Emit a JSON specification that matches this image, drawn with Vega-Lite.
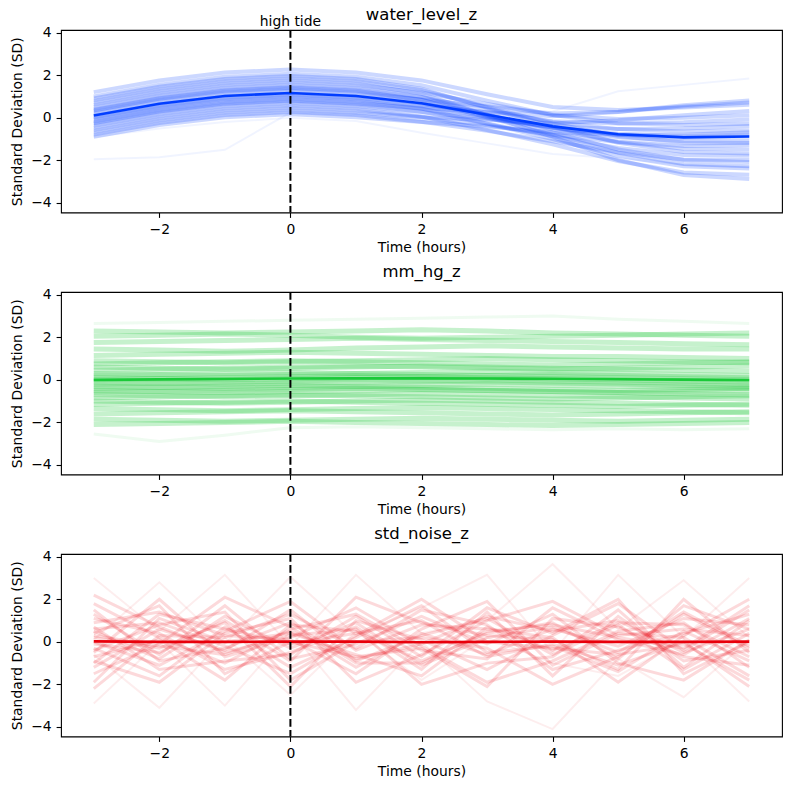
{
"$schema": "https://vega.github.io/schema/vega-lite/v6.json",
"padding": {"left": 10, "top": 5, "right": 9, "bottom": 5},
"background": "white",
"spacing": 79,
"bounds": "flush",
"config": {
 "font": "DejaVu Sans",
 "view": {"stroke": "black", "strokeWidth": 1.1},
 "axis": {"domain": false, "grid": false, "format": "d", "labelFont": "DejaVu Sans", "labelFontSize": 13.9, "labelColor": "black", "tickColor": "black", "tickSize": 4.9, "tickWidth": 1.1, "labelPadding": 4.9, "titleFont": "DejaVu Sans", "titleFontSize": 13.9, "titleFontWeight": "normal", "titleColor": "black"},
 "axisX": {"titlePadding": 4},
 "axisY": {"titlePadding": 6},
 "title": {"font": "DejaVu Sans", "fontSize": 16.5, "fontWeight": "normal", "color": "black", "offset": 7, "anchor": "middle"}
},
"datasets": {
"w": [
{"i":1,"t":-3,"v":1.21},{"i":1,"t":-2,"v":1.76},{"i":1,"t":-1,"v":2.13},{"i":1,"t":0,"v":2.27},{"i":1,"t":1,"v":2.13},{"i":1,"t":2,"v":1.76},{"i":1,"t":3,"v":1.11},{"i":1,"t":4,"v":0.51},{"i":1,"t":5,"v":0.37},{"i":1,"t":6,"v":0.49},{"i":1,"t":7,"v":0.62},
{"i":2,"t":-3,"v":1.01},{"i":2,"t":-2,"v":1.56},{"i":2,"t":-1,"v":1.93},{"i":2,"t":0,"v":2.07},{"i":2,"t":1,"v":1.93},{"i":2,"t":2,"v":1.53},{"i":2,"t":3,"v":0.81},{"i":2,"t":4,"v":0.13},{"i":2,"t":5,"v":-0.25},{"i":2,"t":6,"v":-0.34},{"i":2,"t":7,"v":-0.28},
{"i":3,"t":-3,"v":0.81},{"i":3,"t":-2,"v":1.36},{"i":3,"t":-1,"v":1.73},{"i":3,"t":0,"v":1.87},{"i":3,"t":1,"v":1.73},{"i":3,"t":2,"v":1.31},{"i":3,"t":3,"v":0.51},{"i":3,"t":4,"v":-0.26},{"i":3,"t":5,"v":-0.86},{"i":3,"t":6,"v":-1.16},{"i":3,"t":7,"v":-1.18},
{"i":4,"t":-3,"v":0.61},{"i":4,"t":-2,"v":1.16},{"i":4,"t":-1,"v":1.53},{"i":4,"t":0,"v":1.67},{"i":4,"t":1,"v":1.53},{"i":4,"t":2,"v":1.19},{"i":4,"t":3,"v":0.65},{"i":4,"t":4,"v":0.13},{"i":4,"t":5,"v":-0.05},{"i":4,"t":6,"v":0.01},{"i":4,"t":7,"v":0.12},
{"i":5,"t":-3,"v":0.51},{"i":5,"t":-2,"v":1.06},{"i":5,"t":-1,"v":1.43},{"i":5,"t":0,"v":1.57},{"i":5,"t":1,"v":1.43},{"i":5,"t":2,"v":0.99},{"i":5,"t":3,"v":0.15},{"i":5,"t":4,"v":-0.68},{"i":5,"t":5,"v":-1.49},{"i":5,"t":6,"v":-1.98},{"i":5,"t":7,"v":-2.08},
{"i":6,"t":-3,"v":0.41},{"i":6,"t":-2,"v":0.96},{"i":6,"t":-1,"v":1.33},{"i":6,"t":0,"v":1.47},{"i":6,"t":1,"v":1.33},{"i":6,"t":2,"v":0.98},{"i":6,"t":3,"v":0.39},{"i":6,"t":4,"v":-0.19},{"i":6,"t":5,"v":-0.53},{"i":6,"t":6,"v":-0.64},{"i":6,"t":7,"v":-0.58},
{"i":7,"t":-3,"v":0.31},{"i":7,"t":-2,"v":0.86},{"i":7,"t":-1,"v":1.23},{"i":7,"t":0,"v":1.37},{"i":7,"t":1,"v":1.23},{"i":7,"t":2,"v":0.84},{"i":7,"t":3,"v":0.15},{"i":7,"t":4,"v":-0.54},{"i":7,"t":5,"v":-1.13},{"i":7,"t":6,"v":-1.45},{"i":7,"t":7,"v":-1.48},
{"i":8,"t":-3,"v":0.21},{"i":8,"t":-2,"v":0.76},{"i":8,"t":-1,"v":1.13},{"i":8,"t":0,"v":1.27},{"i":8,"t":1,"v":1.13},{"i":8,"t":2,"v":0.86},{"i":8,"t":3,"v":0.53},{"i":8,"t":4,"v":0.2},{"i":8,"t":5,"v":0.29},{"i":8,"t":6,"v":0.53},{"i":8,"t":7,"v":0.72},
{"i":9,"t":-3,"v":0.11},{"i":9,"t":-2,"v":0.66},{"i":9,"t":-1,"v":1.03},{"i":9,"t":0,"v":1.17},{"i":9,"t":1,"v":1.03},{"i":9,"t":2,"v":0.68},{"i":9,"t":3,"v":0.11},{"i":9,"t":4,"v":-0.47},{"i":9,"t":5,"v":-0.9},{"i":9,"t":6,"v":-1.1},{"i":9,"t":7,"v":-1.08},
{"i":10,"t":-3,"v":0.01},{"i":10,"t":-2,"v":0.56},{"i":10,"t":-1,"v":0.93},{"i":10,"t":0,"v":1.07},{"i":10,"t":1,"v":0.93},{"i":10,"t":2,"v":0.64},{"i":10,"t":3,"v":0.25},{"i":10,"t":4,"v":-0.16},{"i":10,"t":5,"v":-0.27},{"i":10,"t":6,"v":-0.21},{"i":10,"t":7,"v":-0.08},
{"i":11,"t":-3,"v":-0.09},{"i":11,"t":-2,"v":0.46},{"i":11,"t":-1,"v":0.83},{"i":11,"t":0,"v":0.97},{"i":11,"t":1,"v":0.83},{"i":11,"t":2,"v":0.44},{"i":11,"t":3,"v":-0.27},{"i":11,"t":4,"v":-1.0},{"i":11,"t":5,"v":-1.78},{"i":11,"t":6,"v":-2.28},{"i":11,"t":7,"v":-2.38},
{"i":12,"t":-3,"v":-0.19},{"i":12,"t":-2,"v":0.36},{"i":12,"t":-1,"v":0.73},{"i":12,"t":0,"v":0.87},{"i":12,"t":1,"v":0.73},{"i":12,"t":2,"v":0.43},{"i":12,"t":3,"v":-0.01},{"i":12,"t":4,"v":-0.47},{"i":12,"t":5,"v":-0.75},{"i":12,"t":6,"v":-0.85},{"i":12,"t":7,"v":-0.78},
{"i":13,"t":-3,"v":-0.29},{"i":13,"t":-2,"v":0.26},{"i":13,"t":-1,"v":0.63},{"i":13,"t":0,"v":0.77},{"i":13,"t":1,"v":0.63},{"i":13,"t":2,"v":0.29},{"i":13,"t":3,"v":-0.27},{"i":13,"t":4,"v":-0.86},{"i":13,"t":5,"v":-1.42},{"i":13,"t":6,"v":-1.75},{"i":13,"t":7,"v":-1.78},
{"i":14,"t":-3,"v":-0.39},{"i":14,"t":-2,"v":0.16},{"i":14,"t":-1,"v":0.53},{"i":14,"t":0,"v":0.67},{"i":14,"t":1,"v":0.53},{"i":14,"t":2,"v":0.27},{"i":14,"t":3,"v":-0.05},{"i":14,"t":4,"v":-0.4},{"i":14,"t":5,"v":-0.52},{"i":14,"t":6,"v":-0.5},{"i":14,"t":7,"v":-0.38},
{"i":15,"t":-3,"v":-0.49},{"i":15,"t":-2,"v":0.06},{"i":15,"t":-1,"v":0.43},{"i":15,"t":0,"v":0.57},{"i":15,"t":1,"v":0.43},{"i":15,"t":2,"v":0.06},{"i":15,"t":3,"v":-0.57},{"i":15,"t":4,"v":-1.24},{"i":15,"t":5,"v":-2.03},{"i":15,"t":6,"v":-2.57},{"i":15,"t":7,"v":-2.68},
{"i":16,"t":-3,"v":-0.59},{"i":16,"t":-2,"v":-0.04},{"i":16,"t":-1,"v":0.33},{"i":16,"t":0,"v":0.47},{"i":16,"t":1,"v":0.33},{"i":16,"t":2,"v":0.04},{"i":16,"t":3,"v":-0.35},{"i":16,"t":4,"v":-0.79},{"i":16,"t":5,"v":-1.14},{"i":16,"t":6,"v":-1.32},{"i":16,"t":7,"v":-1.28},
{"i":17,"t":-3,"v":-0.69},{"i":17,"t":-2,"v":-0.14},{"i":17,"t":-1,"v":0.23},{"i":17,"t":0,"v":0.37},{"i":17,"t":1,"v":0.23},{"i":17,"t":2,"v":0.03},{"i":17,"t":3,"v":-0.09},{"i":17,"t":4,"v":-0.26},{"i":17,"t":5,"v":-0.11},{"i":17,"t":6,"v":0.12},{"i":17,"t":7,"v":0.32},
{"i":18,"t":-3,"v":-0.79},{"i":18,"t":-2,"v":-0.24},{"i":18,"t":-1,"v":0.13},{"i":18,"t":0,"v":0.27},{"i":18,"t":1,"v":0.13},{"i":18,"t":2,"v":-0.18},{"i":18,"t":3,"v":-0.61},{"i":18,"t":4,"v":-1.1},{"i":18,"t":5,"v":-1.62},{"i":18,"t":6,"v":-1.96},{"i":18,"t":7,"v":-1.98},
{"i":19,"t":-3,"v":-0.89},{"i":19,"t":-2,"v":-0.34},{"i":19,"t":-1,"v":0.03},{"i":19,"t":0,"v":0.17},{"i":19,"t":1,"v":0.03},{"i":19,"t":2,"v":-0.2},{"i":19,"t":3,"v":-0.41},{"i":19,"t":4,"v":-0.68},{"i":19,"t":5,"v":-0.79},{"i":19,"t":6,"v":-0.79},{"i":19,"t":7,"v":-0.68},
{"i":20,"t":-3,"v":0.71},{"i":20,"t":-2,"v":1.26},{"i":20,"t":-1,"v":1.63},{"i":20,"t":0,"v":1.77},{"i":20,"t":1,"v":1.63},{"i":20,"t":2,"v":1.13},{"i":20,"t":3,"v":0.11},{"i":20,"t":4,"v":-0.89},{"i":20,"t":5,"v":-1.98},{"i":20,"t":6,"v":-2.69},{"i":20,"t":7,"v":-2.88},
{"i":21,"t":-3,"v":0.91},{"i":21,"t":-2,"v":1.46},{"i":21,"t":-1,"v":1.83},{"i":21,"t":0,"v":1.97},{"i":21,"t":1,"v":1.83},{"i":21,"t":2,"v":1.37},{"i":21,"t":3,"v":0.47},{"i":21,"t":4,"v":-0.4},{"i":21,"t":5,"v":-1.17},{"i":21,"t":6,"v":-1.6},{"i":21,"t":7,"v":-1.68},
{"i":22,"t":-3,"v":-0.04},{"i":22,"t":-2,"v":0.51},{"i":22,"t":-1,"v":0.88},{"i":22,"t":0,"v":1.02},{"i":22,"t":1,"v":0.88},{"i":22,"t":2,"v":0.56},{"i":22,"t":3,"v":0.06},{"i":22,"t":4,"v":-0.45},{"i":22,"t":5,"v":-0.79},{"i":22,"t":6,"v":-0.93},{"i":22,"t":7,"v":-0.88},
{"i":23,"t":-3,"v":0.36},{"i":23,"t":-2,"v":0.91},{"i":23,"t":-1,"v":1.28},{"i":23,"t":0,"v":1.42},{"i":23,"t":1,"v":1.28},{"i":23,"t":2,"v":0.85},{"i":23,"t":3,"v":0.02},{"i":23,"t":4,"v":-0.8},{"i":23,"t":5,"v":-1.64},{"i":23,"t":6,"v":-2.17},{"i":23,"t":7,"v":-2.28},
{"i":24,"t":-3,"v":-0.24},{"i":24,"t":-2,"v":0.31},{"i":24,"t":-1,"v":0.68},{"i":24,"t":0,"v":0.82},{"i":24,"t":1,"v":0.68},{"i":24,"t":2,"v":0.46},{"i":24,"t":3,"v":0.28},{"i":24,"t":4,"v":0.07},{"i":24,"t":5,"v":0.28},{"i":24,"t":6,"v":0.59},{"i":24,"t":7,"v":0.82},
{"i":25,"t":-3,"v":-1.95},{"i":25,"t":-2,"v":-1.85},{"i":25,"t":-1,"v":-1.5},{"i":25,"t":0,"v":0.25},{"i":25,"t":1,"v":0.15},{"i":25,"t":2,"v":-0.1},{"i":25,"t":3,"v":-0.35},{"i":25,"t":4,"v":-0.7},{"i":25,"t":5,"v":-1.0},{"i":25,"t":6,"v":-1.3},{"i":25,"t":7,"v":-1.2},
{"i":26,"t":-3,"v":0.3},{"i":26,"t":-2,"v":0.85},{"i":26,"t":-1,"v":1.2},{"i":26,"t":0,"v":1.35},{"i":26,"t":1,"v":1.2},{"i":26,"t":2,"v":0.8},{"i":26,"t":3,"v":0.25},{"i":26,"t":4,"v":0.3},{"i":26,"t":5,"v":1.25},{"i":26,"t":6,"v":1.55},{"i":26,"t":7,"v":1.85},
{"i":27,"t":-3,"v":-0.9},{"i":27,"t":-2,"v":-0.5},{"i":27,"t":-1,"v":-0.2},{"i":27,"t":0,"v":0.0},{"i":27,"t":1,"v":-0.15},{"i":27,"t":2,"v":-0.7},{"i":27,"t":3,"v":-1.2},{"i":27,"t":4,"v":-1.7},{"i":27,"t":5,"v":-1.9},{"i":27,"t":6,"v":-2.2},{"i":27,"t":7,"v":-2.3}
],
"wm": [
{"t":-3,"v":0.11},{"t":-2,"v":0.66},{"t":-1,"v":1.03},{"t":0,"v":1.17},{"t":1,"v":1.03},{"t":2,"v":0.69},{"t":3,"v":0.15},{"t":4,"v":-0.4},{"t":5,"v":-0.77},{"t":6,"v":-0.92},{"t":7,"v":-0.88}
],
"m": [
{"i":1,"t":-3,"v":2.65},{"i":1,"t":-2,"v":2.7},{"i":1,"t":-1,"v":2.75},{"i":1,"t":0,"v":2.8},{"i":1,"t":1,"v":2.85},{"i":1,"t":2,"v":2.9},{"i":1,"t":3,"v":2.95},{"i":1,"t":4,"v":3.0},{"i":1,"t":5,"v":2.85},{"i":1,"t":6,"v":2.75},{"i":1,"t":7,"v":2.65},
{"i":2,"t":-3,"v":2.3},{"i":2,"t":-2,"v":2.25},{"i":2,"t":-1,"v":2.2},{"i":2,"t":0,"v":2.25},{"i":2,"t":1,"v":2.3},{"i":2,"t":2,"v":2.35},{"i":2,"t":3,"v":2.3},{"i":2,"t":4,"v":2.2},{"i":2,"t":5,"v":2.15},{"i":2,"t":6,"v":2.1},{"i":2,"t":7,"v":2.05},
{"i":3,"t":-3,"v":2.05},{"i":3,"t":-2,"v":2.1},{"i":3,"t":-1,"v":2.15},{"i":3,"t":0,"v":2.1},{"i":3,"t":1,"v":2.0},{"i":3,"t":2,"v":1.95},{"i":3,"t":3,"v":2.0},{"i":3,"t":4,"v":2.05},{"i":3,"t":5,"v":2.1},{"i":3,"t":6,"v":2.15},{"i":3,"t":7,"v":2.2},
{"i":4,"t":-3,"v":1.75},{"i":4,"t":-2,"v":1.8},{"i":4,"t":-1,"v":1.85},{"i":4,"t":0,"v":1.9},{"i":4,"t":1,"v":1.95},{"i":4,"t":2,"v":1.9},{"i":4,"t":3,"v":1.85},{"i":4,"t":4,"v":1.8},{"i":4,"t":5,"v":1.75},{"i":4,"t":6,"v":1.7},{"i":4,"t":7,"v":1.65},
{"i":5,"t":-3,"v":1.45},{"i":5,"t":-2,"v":1.4},{"i":5,"t":-1,"v":1.35},{"i":5,"t":0,"v":1.4},{"i":5,"t":1,"v":1.5},{"i":5,"t":2,"v":1.55},{"i":5,"t":3,"v":1.6},{"i":5,"t":4,"v":1.55},{"i":5,"t":5,"v":1.5},{"i":5,"t":6,"v":1.45},{"i":5,"t":7,"v":1.45},
{"i":6,"t":-3,"v":1.15},{"i":6,"t":-2,"v":1.2},{"i":6,"t":-1,"v":1.25},{"i":6,"t":0,"v":1.3},{"i":6,"t":1,"v":1.25},{"i":6,"t":2,"v":1.2},{"i":6,"t":3,"v":1.15},{"i":6,"t":4,"v":1.1},{"i":6,"t":5,"v":1.1},{"i":6,"t":6,"v":1.05},{"i":6,"t":7,"v":1.0},
{"i":7,"t":-3,"v":0.9},{"i":7,"t":-2,"v":0.85},{"i":7,"t":-1,"v":0.8},{"i":7,"t":0,"v":0.85},{"i":7,"t":1,"v":0.9},{"i":7,"t":2,"v":0.95},{"i":7,"t":3,"v":1.0},{"i":7,"t":4,"v":0.95},{"i":7,"t":5,"v":0.9},{"i":7,"t":6,"v":0.85},{"i":7,"t":7,"v":0.8},
{"i":8,"t":-3,"v":0.75},{"i":8,"t":-2,"v":0.8},{"i":8,"t":-1,"v":0.85},{"i":8,"t":0,"v":0.9},{"i":8,"t":1,"v":0.85},{"i":8,"t":2,"v":0.8},{"i":8,"t":3,"v":0.75},{"i":8,"t":4,"v":0.7},{"i":8,"t":5,"v":0.75},{"i":8,"t":6,"v":0.8},{"i":8,"t":7,"v":0.85},
{"i":9,"t":-3,"v":0.6},{"i":9,"t":-2,"v":0.55},{"i":9,"t":-1,"v":0.5},{"i":9,"t":0,"v":0.55},{"i":9,"t":1,"v":0.6},{"i":9,"t":2,"v":0.65},{"i":9,"t":3,"v":0.6},{"i":9,"t":4,"v":0.55},{"i":9,"t":5,"v":0.5},{"i":9,"t":6,"v":0.45},{"i":9,"t":7,"v":0.4},
{"i":10,"t":-3,"v":0.45},{"i":10,"t":-2,"v":0.5},{"i":10,"t":-1,"v":0.55},{"i":10,"t":0,"v":0.6},{"i":10,"t":1,"v":0.65},{"i":10,"t":2,"v":0.6},{"i":10,"t":3,"v":0.55},{"i":10,"t":4,"v":0.5},{"i":10,"t":5,"v":0.55},{"i":10,"t":6,"v":0.6},{"i":10,"t":7,"v":0.65},
{"i":11,"t":-3,"v":0.3},{"i":11,"t":-2,"v":0.25},{"i":11,"t":-1,"v":0.2},{"i":11,"t":0,"v":0.25},{"i":11,"t":1,"v":0.3},{"i":11,"t":2,"v":0.35},{"i":11,"t":3,"v":0.4},{"i":11,"t":4,"v":0.35},{"i":11,"t":5,"v":0.3},{"i":11,"t":6,"v":0.25},{"i":11,"t":7,"v":0.2},
{"i":12,"t":-3,"v":0.2},{"i":12,"t":-2,"v":0.25},{"i":12,"t":-1,"v":0.3},{"i":12,"t":0,"v":0.35},{"i":12,"t":1,"v":0.3},{"i":12,"t":2,"v":0.25},{"i":12,"t":3,"v":0.2},{"i":12,"t":4,"v":0.15},{"i":12,"t":5,"v":0.1},{"i":12,"t":6,"v":0.05},{"i":12,"t":7,"v":0.0},
{"i":13,"t":-3,"v":0.1},{"i":13,"t":-2,"v":0.05},{"i":13,"t":-1,"v":0.0},{"i":13,"t":0,"v":0.05},{"i":13,"t":1,"v":0.1},{"i":13,"t":2,"v":0.15},{"i":13,"t":3,"v":0.2},{"i":13,"t":4,"v":0.25},{"i":13,"t":5,"v":0.2},{"i":13,"t":6,"v":0.15},{"i":13,"t":7,"v":0.1},
{"i":14,"t":-3,"v":0.0},{"i":14,"t":-2,"v":0.05},{"i":14,"t":-1,"v":0.1},{"i":14,"t":0,"v":0.15},{"i":14,"t":1,"v":0.2},{"i":14,"t":2,"v":0.15},{"i":14,"t":3,"v":0.1},{"i":14,"t":4,"v":0.05},{"i":14,"t":5,"v":0.0},{"i":14,"t":6,"v":-0.05},{"i":14,"t":7,"v":-0.1},
{"i":15,"t":-3,"v":-0.1},{"i":15,"t":-2,"v":-0.15},{"i":15,"t":-1,"v":-0.2},{"i":15,"t":0,"v":-0.15},{"i":15,"t":1,"v":-0.1},{"i":15,"t":2,"v":-0.05},{"i":15,"t":3,"v":0.0},{"i":15,"t":4,"v":-0.05},{"i":15,"t":5,"v":-0.1},{"i":15,"t":6,"v":-0.15},{"i":15,"t":7,"v":-0.2},
{"i":16,"t":-3,"v":-0.2},{"i":16,"t":-2,"v":-0.15},{"i":16,"t":-1,"v":-0.1},{"i":16,"t":0,"v":-0.05},{"i":16,"t":1,"v":0.0},{"i":16,"t":2,"v":-0.05},{"i":16,"t":3,"v":-0.1},{"i":16,"t":4,"v":-0.15},{"i":16,"t":5,"v":-0.2},{"i":16,"t":6,"v":-0.25},{"i":16,"t":7,"v":-0.3},
{"i":17,"t":-3,"v":-0.3},{"i":17,"t":-2,"v":-0.35},{"i":17,"t":-1,"v":-0.4},{"i":17,"t":0,"v":-0.35},{"i":17,"t":1,"v":-0.3},{"i":17,"t":2,"v":-0.25},{"i":17,"t":3,"v":-0.2},{"i":17,"t":4,"v":-0.25},{"i":17,"t":5,"v":-0.3},{"i":17,"t":6,"v":-0.35},{"i":17,"t":7,"v":-0.4},
{"i":18,"t":-3,"v":-0.4},{"i":18,"t":-2,"v":-0.35},{"i":18,"t":-1,"v":-0.3},{"i":18,"t":0,"v":-0.25},{"i":18,"t":1,"v":-0.3},{"i":18,"t":2,"v":-0.35},{"i":18,"t":3,"v":-0.4},{"i":18,"t":4,"v":-0.45},{"i":18,"t":5,"v":-0.5},{"i":18,"t":6,"v":-0.45},{"i":18,"t":7,"v":-0.4},
{"i":19,"t":-3,"v":-0.5},{"i":19,"t":-2,"v":-0.55},{"i":19,"t":-1,"v":-0.6},{"i":19,"t":0,"v":-0.55},{"i":19,"t":1,"v":-0.5},{"i":19,"t":2,"v":-0.45},{"i":19,"t":3,"v":-0.5},{"i":19,"t":4,"v":-0.55},{"i":19,"t":5,"v":-0.6},{"i":19,"t":6,"v":-0.65},{"i":19,"t":7,"v":-0.7},
{"i":20,"t":-3,"v":-0.6},{"i":20,"t":-2,"v":-0.55},{"i":20,"t":-1,"v":-0.5},{"i":20,"t":0,"v":-0.45},{"i":20,"t":1,"v":-0.4},{"i":20,"t":2,"v":-0.45},{"i":20,"t":3,"v":-0.5},{"i":20,"t":4,"v":-0.55},{"i":20,"t":5,"v":-0.6},{"i":20,"t":6,"v":-0.55},{"i":20,"t":7,"v":-0.5},
{"i":21,"t":-3,"v":-0.7},{"i":21,"t":-2,"v":-0.75},{"i":21,"t":-1,"v":-0.8},{"i":21,"t":0,"v":-0.75},{"i":21,"t":1,"v":-0.7},{"i":21,"t":2,"v":-0.65},{"i":21,"t":3,"v":-0.7},{"i":21,"t":4,"v":-0.75},{"i":21,"t":5,"v":-0.8},{"i":21,"t":6,"v":-0.85},{"i":21,"t":7,"v":-0.9},
{"i":22,"t":-3,"v":-0.85},{"i":22,"t":-2,"v":-0.8},{"i":22,"t":-1,"v":-0.75},{"i":22,"t":0,"v":-0.7},{"i":22,"t":1,"v":-0.75},{"i":22,"t":2,"v":-0.8},{"i":22,"t":3,"v":-0.85},{"i":22,"t":4,"v":-0.9},{"i":22,"t":5,"v":-0.85},{"i":22,"t":6,"v":-0.8},{"i":22,"t":7,"v":-0.75},
{"i":23,"t":-3,"v":-1.0},{"i":23,"t":-2,"v":-1.05},{"i":23,"t":-1,"v":-1.1},{"i":23,"t":0,"v":-1.05},{"i":23,"t":1,"v":-1.0},{"i":23,"t":2,"v":-0.95},{"i":23,"t":3,"v":-1.0},{"i":23,"t":4,"v":-1.05},{"i":23,"t":5,"v":-1.1},{"i":23,"t":6,"v":-1.15},{"i":23,"t":7,"v":-1.2},
{"i":24,"t":-3,"v":-1.15},{"i":24,"t":-2,"v":-1.1},{"i":24,"t":-1,"v":-1.05},{"i":24,"t":0,"v":-1.0},{"i":24,"t":1,"v":-1.05},{"i":24,"t":2,"v":-1.1},{"i":24,"t":3,"v":-1.15},{"i":24,"t":4,"v":-1.2},{"i":24,"t":5,"v":-1.25},{"i":24,"t":6,"v":-1.2},{"i":24,"t":7,"v":-1.15},
{"i":25,"t":-3,"v":-1.35},{"i":25,"t":-2,"v":-1.4},{"i":25,"t":-1,"v":-1.45},{"i":25,"t":0,"v":-1.4},{"i":25,"t":1,"v":-1.35},{"i":25,"t":2,"v":-1.3},{"i":25,"t":3,"v":-1.35},{"i":25,"t":4,"v":-1.4},{"i":25,"t":5,"v":-1.45},{"i":25,"t":6,"v":-1.5},{"i":25,"t":7,"v":-1.55},
{"i":26,"t":-3,"v":-1.6},{"i":26,"t":-2,"v":-1.55},{"i":26,"t":-1,"v":-1.5},{"i":26,"t":0,"v":-1.45},{"i":26,"t":1,"v":-1.5},{"i":26,"t":2,"v":-1.55},{"i":26,"t":3,"v":-1.6},{"i":26,"t":4,"v":-1.65},{"i":26,"t":5,"v":-1.6},{"i":26,"t":6,"v":-1.55},{"i":26,"t":7,"v":-1.5},
{"i":27,"t":-3,"v":-1.85},{"i":27,"t":-2,"v":-1.9},{"i":27,"t":-1,"v":-1.95},{"i":27,"t":0,"v":-1.9},{"i":27,"t":1,"v":-1.85},{"i":27,"t":2,"v":-1.8},{"i":27,"t":3,"v":-1.85},{"i":27,"t":4,"v":-1.9},{"i":27,"t":5,"v":-1.95},{"i":27,"t":6,"v":-1.9},{"i":27,"t":7,"v":-1.85},
{"i":28,"t":-3,"v":-2.1},{"i":28,"t":-2,"v":-2.05},{"i":28,"t":-1,"v":-2.0},{"i":28,"t":0,"v":-1.95},{"i":28,"t":1,"v":-2.0},{"i":28,"t":2,"v":-2.05},{"i":28,"t":3,"v":-2.1},{"i":28,"t":4,"v":-2.15},{"i":28,"t":5,"v":-2.1},{"i":28,"t":6,"v":-2.05},{"i":28,"t":7,"v":-2.0},
{"i":29,"t":-3,"v":-2.55},{"i":29,"t":-2,"v":-2.9},{"i":29,"t":-1,"v":-2.6},{"i":29,"t":0,"v":-2.25},{"i":29,"t":1,"v":-2.2},{"i":29,"t":2,"v":-2.25},{"i":29,"t":3,"v":-2.3},{"i":29,"t":4,"v":-2.35},{"i":29,"t":5,"v":-2.3},{"i":29,"t":6,"v":-2.35},{"i":29,"t":7,"v":-2.3}
],
"mm": [
{"t":-3,"v":0.0},{"t":-2,"v":0.02},{"t":-1,"v":0.04},{"t":0,"v":0.06},{"t":1,"v":0.07},{"t":2,"v":0.07},{"t":3,"v":0.06},{"t":4,"v":0.05},{"t":5,"v":0.03},{"t":6,"v":0.01},{"t":7,"v":-0.01}
],
"n": [
{"i":1,"t":-3,"v":0.5},{"i":1,"t":-2,"v":-0.8},{"i":1,"t":-1,"v":1.2},{"i":1,"t":0,"v":-0.3},{"i":1,"t":1,"v":0.9},{"i":1,"t":2,"v":-1.1},{"i":1,"t":3,"v":0.2},{"i":1,"t":4,"v":0.7},{"i":1,"t":5,"v":-0.5},{"i":1,"t":6,"v":1.4},{"i":1,"t":7,"v":-0.2},
{"i":2,"t":-3,"v":-1.2},{"i":2,"t":-2,"v":0.6},{"i":2,"t":-1,"v":-0.4},{"i":2,"t":0,"v":1.5},{"i":2,"t":1,"v":-0.9},{"i":2,"t":2,"v":0.3},{"i":2,"t":3,"v":1.1},{"i":2,"t":4,"v":-0.6},{"i":2,"t":5,"v":0.8},{"i":2,"t":6,"v":-1.3},{"i":2,"t":7,"v":0.4},
{"i":3,"t":-3,"v":1.8},{"i":3,"t":-2,"v":0.2},{"i":3,"t":-1,"v":-1.0},{"i":3,"t":0,"v":0.6},{"i":3,"t":1,"v":1.3},{"i":3,"t":2,"v":-0.4},{"i":3,"t":3,"v":-0.8},{"i":3,"t":4,"v":1.6},{"i":3,"t":5,"v":0.1},{"i":3,"t":6,"v":-0.6},{"i":3,"t":7,"v":1.1},
{"i":4,"t":-3,"v":-0.3},{"i":4,"t":-2,"v":-1.6},{"i":4,"t":-1,"v":0.7},{"i":4,"t":0,"v":-1.2},{"i":4,"t":1,"v":0.2},{"i":4,"t":2,"v":1.7},{"i":4,"t":3,"v":-0.5},{"i":4,"t":4,"v":-0.2},{"i":4,"t":5,"v":-1.4},{"i":4,"t":6,"v":0.5},{"i":4,"t":7,"v":-0.9},
{"i":5,"t":-3,"v":0.9},{"i":5,"t":-2,"v":1.4},{"i":5,"t":-1,"v":0.3},{"i":5,"t":0,"v":0.1},{"i":5,"t":1,"v":-1.5},{"i":5,"t":2,"v":0.6},{"i":5,"t":3,"v":1.9},{"i":5,"t":4,"v":-1.1},{"i":5,"t":5,"v":0.4},{"i":5,"t":6,"v":0.2},{"i":5,"t":7,"v":-1.6},
{"i":6,"t":-3,"v":-0.7},{"i":6,"t":-2,"v":0.1},{"i":6,"t":-1,"v":-1.8},{"i":6,"t":0,"v":0.8},{"i":6,"t":1,"v":0.5},{"i":6,"t":2,"v":-0.9},{"i":6,"t":3,"v":0.4},{"i":6,"t":4,"v":0.9},{"i":6,"t":5,"v":-0.8},{"i":6,"t":6,"v":1.7},{"i":6,"t":7,"v":0.6},
{"i":7,"t":-3,"v":0.2},{"i":7,"t":-2,"v":-0.3},{"i":7,"t":-1,"v":0.9},{"i":7,"t":0,"v":-2.1},{"i":7,"t":1,"v":1.0},{"i":7,"t":2,"v":0.1},{"i":7,"t":3,"v":-1.3},{"i":7,"t":4,"v":0.3},{"i":7,"t":5,"v":1.8},{"i":7,"t":6,"v":-0.4},{"i":7,"t":7,"v":1.5},
{"i":8,"t":-3,"v":-1.9},{"i":8,"t":-2,"v":1.1},{"i":8,"t":-1,"v":0.0},{"i":8,"t":0,"v":0.4},{"i":8,"t":1,"v":-0.6},{"i":8,"t":2,"v":-1.6},{"i":8,"t":3,"v":0.7},{"i":8,"t":4,"v":-0.4},{"i":8,"t":5,"v":0.9},{"i":8,"t":6,"v":0.8},{"i":8,"t":7,"v":-0.7},
{"i":9,"t":-3,"v":1.3},{"i":9,"t":-2,"v":-0.6},{"i":9,"t":-1,"v":1.7},{"i":9,"t":0,"v":-0.8},{"i":9,"t":1,"v":-0.1},{"i":9,"t":2,"v":1.2},{"i":9,"t":3,"v":-0.1},{"i":9,"t":4,"v":1.3},{"i":9,"t":5,"v":-1.0},{"i":9,"t":6,"v":-1.8},{"i":9,"t":7,"v":0.1},
{"i":10,"t":-3,"v":-0.5},{"i":10,"t":-2,"v":2.0},{"i":10,"t":-1,"v":-0.7},{"i":10,"t":0,"v":0.2},{"i":10,"t":1,"v":1.6},{"i":10,"t":2,"v":-0.2},{"i":10,"t":3,"v":-1.9},{"i":10,"t":4,"v":-0.9},{"i":10,"t":5,"v":0.5},{"i":10,"t":6,"v":0.9},{"i":10,"t":7,"v":-1.2},
{"i":11,"t":-3,"v":0.0},{"i":11,"t":-2,"v":-1.1},{"i":11,"t":-1,"v":0.5},{"i":11,"t":0,"v":1.9},{"i":11,"t":1,"v":-0.4},{"i":11,"t":2,"v":0.8},{"i":11,"t":3,"v":0.6},{"i":11,"t":4,"v":0.2},{"i":11,"t":5,"v":-1.9},{"i":11,"t":6,"v":0.3},{"i":11,"t":7,"v":2.0},
{"i":12,"t":-3,"v":1.1},{"i":12,"t":-2,"v":0.4},{"i":12,"t":-1,"v":-1.3},{"i":12,"t":0,"v":-0.5},{"i":12,"t":1,"v":0.7},{"i":12,"t":2,"v":-1.3},{"i":12,"t":3,"v":1.4},{"i":12,"t":4,"v":-1.6},{"i":12,"t":5,"v":1.2},{"i":12,"t":6,"v":-0.9},{"i":12,"t":7,"v":-0.4},
{"i":13,"t":-3,"v":-1.5},{"i":13,"t":-2,"v":-0.1},{"i":13,"t":-1,"v":2.1},{"i":13,"t":0,"v":0.7},{"i":13,"t":1,"v":-1.2},{"i":13,"t":2,"v":0.4},{"i":13,"t":3,"v":-0.6},{"i":13,"t":4,"v":0.6},{"i":13,"t":5,"v":-0.2},{"i":13,"t":6,"v":1.1},{"i":13,"t":7,"v":0.8},
{"i":14,"t":-3,"v":0.6},{"i":14,"t":-2,"v":0.9},{"i":14,"t":-1,"v":-0.2},{"i":14,"t":0,"v":-1.5},{"i":14,"t":1,"v":0.3},{"i":14,"t":2,"v":2.0},{"i":14,"t":3,"v":0.0},{"i":14,"t":4,"v":-0.3},{"i":14,"t":5,"v":-0.6},{"i":14,"t":6,"v":-0.1},{"i":14,"t":7,"v":-1.8},
{"i":15,"t":-3,"v":-0.9},{"i":15,"t":-2,"v":-1.9},{"i":15,"t":-1,"v":0.4},{"i":15,"t":0,"v":1.1},{"i":15,"t":1,"v":-1.9},{"i":15,"t":2,"v":-0.6},{"i":15,"t":3,"v":1.0},{"i":15,"t":4,"v":1.9},{"i":15,"t":5,"v":0.3},{"i":15,"t":6,"v":0.6},{"i":15,"t":7,"v":0.3},
{"i":16,"t":-3,"v":2.2},{"i":16,"t":-2,"v":0.7},{"i":16,"t":-1,"v":-0.5},{"i":16,"t":0,"v":0.3},{"i":16,"t":1,"v":0.6},{"i":16,"t":2,"v":-2.0},{"i":16,"t":3,"v":-1.0},{"i":16,"t":4,"v":-0.7},{"i":16,"t":5,"v":1.5},{"i":16,"t":6,"v":-1.2},{"i":16,"t":7,"v":1.0},
{"i":17,"t":-3,"v":-0.1},{"i":17,"t":-2,"v":-0.5},{"i":17,"t":-1,"v":1.0},{"i":17,"t":0,"v":-0.9},{"i":17,"t":1,"v":2.1},{"i":17,"t":2,"v":0.9},{"i":17,"t":3,"v":0.3},{"i":17,"t":4,"v":0.1},{"i":17,"t":5,"v":-1.3},{"i":17,"t":6,"v":2.0},{"i":17,"t":7,"v":-0.5},
{"i":18,"t":-3,"v":0.4},{"i":18,"t":-2,"v":1.7},{"i":18,"t":-1,"v":-1.5},{"i":18,"t":0,"v":0.0},{"i":18,"t":1,"v":-0.7},{"i":18,"t":2,"v":-0.3},{"i":18,"t":3,"v":-2.1},{"i":18,"t":4,"v":1.1},{"i":18,"t":5,"v":0.7},{"i":18,"t":6,"v":-0.7},{"i":18,"t":7,"v":-1.1},
{"i":19,"t":-3,"v":-2.2},{"i":19,"t":-2,"v":0.3},{"i":19,"t":-1,"v":0.2},{"i":19,"t":0,"v":1.3},{"i":19,"t":1,"v":-0.3},{"i":19,"t":2,"v":1.5},{"i":19,"t":3,"v":0.8},{"i":19,"t":4,"v":-1.3},{"i":19,"t":5,"v":-0.4},{"i":19,"t":6,"v":0.4},{"i":19,"t":7,"v":1.3},
{"i":20,"t":-3,"v":0.7},{"i":20,"t":-2,"v":-1.3},{"i":20,"t":-1,"v":-0.9},{"i":20,"t":0,"v":-0.6},{"i":20,"t":1,"v":1.2},{"i":20,"t":2,"v":-0.7},{"i":20,"t":3,"v":1.6},{"i":20,"t":4,"v":0.4},{"i":20,"t":5,"v":2.0},{"i":20,"t":6,"v":-1.5},{"i":20,"t":7,"v":0.0},
{"i":21,"t":-3,"v":-0.4},{"i":21,"t":-2,"v":0.8},{"i":21,"t":-1,"v":1.4},{"i":21,"t":0,"v":-1.8},{"i":21,"t":1,"v":0.0},{"i":21,"t":2,"v":0.2},{"i":21,"t":3,"v":-0.3},{"i":21,"t":4,"v":-2.0},{"i":21,"t":5,"v":-0.7},{"i":21,"t":6,"v":1.3},{"i":21,"t":7,"v":-0.3},
{"i":22,"t":-3,"v":1.5},{"i":22,"t":-2,"v":-0.9},{"i":22,"t":-1,"v":-0.3},{"i":22,"t":0,"v":0.9},{"i":22,"t":1,"v":-1.0},{"i":22,"t":2,"v":-1.0},{"i":22,"t":3,"v":0.5},{"i":22,"t":4,"v":0.8},{"i":22,"t":5,"v":0.2},{"i":22,"t":6,"v":-0.3},{"i":22,"t":7,"v":1.7},
{"i":23,"t":-3,"v":-1.0},{"i":23,"t":-2,"v":1.3},{"i":23,"t":-1,"v":0.6},{"i":23,"t":0,"v":-0.1},{"i":23,"t":1,"v":0.4},{"i":23,"t":2,"v":1.0},{"i":23,"t":3,"v":-0.7},{"i":23,"t":4,"v":-0.1},{"i":23,"t":5,"v":-1.1},{"i":23,"t":6,"v":0.0},{"i":23,"t":7,"v":-2.1},
{"i":24,"t":-3,"v":0.3},{"i":24,"t":-2,"v":-0.2},{"i":24,"t":-1,"v":-0.6},{"i":24,"t":0,"v":0.5},{"i":24,"t":1,"v":-0.8},{"i":24,"t":2,"v":-0.1},{"i":24,"t":3,"v":1.2},{"i":24,"t":4,"v":0.5},{"i":24,"t":5,"v":1.0},{"i":24,"t":6,"v":-0.5},{"i":24,"t":7,"v":0.6},
{"i":25,"t":-3,"v":3.0},{"i":25,"t":-2,"v":0.5},{"i":25,"t":-1,"v":3.15},{"i":25,"t":0,"v":-0.2},{"i":25,"t":1,"v":3.15},{"i":25,"t":2,"v":0.4},{"i":25,"t":3,"v":1.0},{"i":25,"t":4,"v":3.65},{"i":25,"t":5,"v":0.6},{"i":25,"t":6,"v":2.9},{"i":25,"t":7,"v":0.2},
{"i":26,"t":-3,"v":-2.9},{"i":26,"t":-2,"v":0.0},{"i":26,"t":-1,"v":-3.0},{"i":26,"t":0,"v":0.5},{"i":26,"t":1,"v":-3.2},{"i":26,"t":2,"v":0.0},{"i":26,"t":3,"v":-2.8},{"i":26,"t":4,"v":-4.1},{"i":26,"t":5,"v":-0.8},{"i":26,"t":6,"v":-2.6},{"i":26,"t":7,"v":0.1},
{"i":27,"t":-3,"v":0.1},{"i":27,"t":-2,"v":2.8},{"i":27,"t":-1,"v":-0.1},{"i":27,"t":0,"v":3.05},{"i":27,"t":1,"v":0.3},{"i":27,"t":2,"v":1.6},{"i":27,"t":3,"v":3.15},{"i":27,"t":4,"v":-0.5},{"i":27,"t":5,"v":3.15},{"i":27,"t":6,"v":0.2},{"i":27,"t":7,"v":3.0},
{"i":28,"t":-3,"v":-0.6},{"i":28,"t":-2,"v":-3.1},{"i":28,"t":-1,"v":0.2},{"i":28,"t":0,"v":-2.5},{"i":28,"t":1,"v":0.5},{"i":28,"t":2,"v":-1.8},{"i":28,"t":3,"v":0.2},{"i":28,"t":4,"v":-1.0},{"i":28,"t":5,"v":-1.6},{"i":28,"t":6,"v":0.1},{"i":28,"t":7,"v":-2.8}
],
"nm": [
{"t":-3,"v":0.02},{"t":-2,"v":0.0},{"t":-1,"v":0.0},{"t":0,"v":0.01},{"t":1,"v":0.01},{"t":2,"v":-0.02},{"t":3,"v":0.0},{"t":4,"v":0.01},{"t":5,"v":0.0},{"t":6,"v":0.0},{"t":7,"v":0.01}
]
},
"vconcat": [
{
 "width": 721, "height": 182.5,
 "title": {"text": "water_level_z", "offset": -8},
 "layer": [
  {"data": {"name": "w"}, "mark": {"type": "line", "color": "#023eff"}, "encoding": {
   "x": {"field": "t", "type": "quantitative", "scale": {"domain": [-3.5, 7.5], "nice": false, "zero": false}, "axis": {"values": [-2, 0, 2, 4, 6], "title": "Time (hours)"}},
   "y": {"field": "v", "type": "quantitative", "scale": {"domain": [-4.45, 4.13], "nice": false, "zero": false}, "axis": {"values": [-4, -2, 0, 2, 4], "title": "Standard Deviation (SD)"}},
   "detail": {"field": "i", "type": "nominal"},
   "opacity": {"condition": {"test": "datum.i >= 25", "value": 0.06}, "value": 0.2},
   "strokeWidth": {"condition": {"test": "datum.i >= 25", "value": 2}, "value": 4}}},
  {"data": {"name": "wm"}, "mark": {"type": "line", "color": "#023eff", "strokeWidth": 2.6}, "encoding": {"x": {"field": "t", "type": "quantitative"}, "y": {"field": "v", "type": "quantitative"}}},
  {"data": {"values": [{}]}, "mark": {"type": "rule", "color": "black", "strokeWidth": 2, "strokeDash": [7.7, 3.3]}, "encoding": {"x": {"datum": 0}}},
  {"data": {"values": [{}]}, "mark": {"type": "text", "fontSize": 13.9, "font": "DejaVu Sans", "color": "black", "baseline": "alphabetic", "align": "center", "dy": -4}, "encoding": {"x": {"datum": 0}, "y": {"datum": 4.13}, "text": {"value": "high tide"}}}
 ]
},
{
 "width": 721, "height": 182.5,
 "title": {"text": "mm_hg_z"},
 "layer": [
  {"data": {"name": "m"}, "mark": {"type": "line", "color": "#1ac938"}, "encoding": {
   "x": {"field": "t", "type": "quantitative", "scale": {"domain": [-3.5, 7.5], "nice": false, "zero": false}, "axis": {"values": [-2, 0, 2, 4, 6], "title": "Time (hours)"}},
   "y": {"field": "v", "type": "quantitative", "scale": {"domain": [-4.45, 4.13], "nice": false, "zero": false}, "axis": {"values": [-4, -2, 0, 2, 4], "title": "Standard Deviation (SD)"}},
   "detail": {"field": "i", "type": "nominal"},
   "opacity": {"condition": {"test": "datum.i == 1 || datum.i == 29", "value": 0.07}, "value": 0.25},
   "strokeWidth": {"condition": {"test": "datum.i == 1 || datum.i == 29", "value": 3}, "value": 5}}},
  {"data": {"name": "mm"}, "mark": {"type": "line", "color": "#1ac938", "strokeWidth": 2.6}, "encoding": {"x": {"field": "t", "type": "quantitative"}, "y": {"field": "v", "type": "quantitative"}}},
  {"data": {"values": [{}]}, "mark": {"type": "rule", "color": "black", "strokeWidth": 2, "strokeDash": [7.7, 3.3]}, "encoding": {"x": {"datum": 0}}}
 ]
},
{
 "width": 721, "height": 182.5,
 "title": {"text": "std_noise_z"},
 "layer": [
  {"data": {"name": "n"}, "mark": {"type": "line", "color": "#e8000b"}, "encoding": {
   "x": {"field": "t", "type": "quantitative", "scale": {"domain": [-3.5, 7.5], "nice": false, "zero": false}, "axis": {"values": [-2, 0, 2, 4, 6], "title": "Time (hours)"}},
   "y": {"field": "v", "type": "quantitative", "scale": {"domain": [-4.45, 4.13], "nice": false, "zero": false}, "axis": {"values": [-4, -2, 0, 2, 4], "title": "Standard Deviation (SD)"}},
   "detail": {"field": "i", "type": "nominal"},
   "opacity": {"condition": {"test": "datum.i >= 25", "value": 0.07}, "value": 0.15},
   "strokeWidth": {"condition": {"test": "datum.i >= 25", "value": 2}, "value": 3}}},
  {"data": {"name": "nm"}, "mark": {"type": "line", "color": "#e8000b", "strokeWidth": 2.6}, "encoding": {"x": {"field": "t", "type": "quantitative"}, "y": {"field": "v", "type": "quantitative"}}},
  {"data": {"values": [{}]}, "mark": {"type": "rule", "color": "black", "strokeWidth": 2, "strokeDash": [7.7, 3.3]}, "encoding": {"x": {"datum": 0}}}
 ]
}
]
}
